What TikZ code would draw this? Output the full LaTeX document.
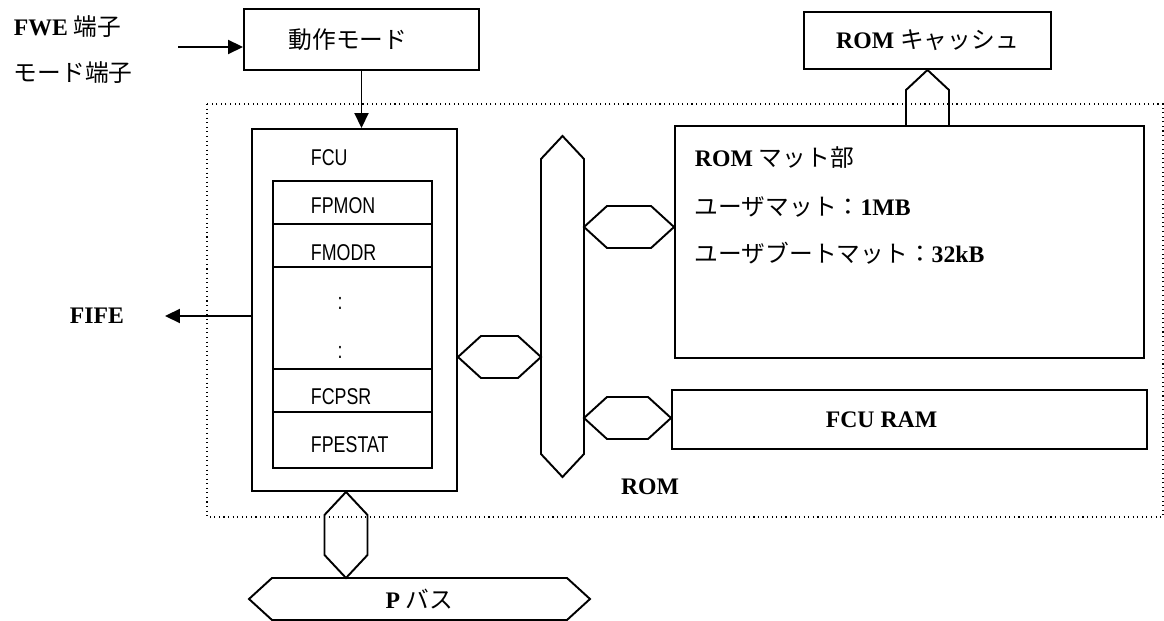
\documentclass[tikz,border=0pt]{standalone}
\usepackage{fontspec}
\setmainfont{Liberation Serif}
\newfontfamily\jpfont{Noto Sans CJK JP}
\newfontfamily\regfont[FakeStretch=0.78]{Liberation Sans}
\usetikzlibrary{arrows.meta, positioning, calc}

\newcommand{\jtext}[1]{{\jpfont\mdseries #1}}
% flat hexagon bus between two points (left -> right / top -> bottom)
\newcommand{\hexlink}[2]{%
  \draw (#1) -- ($(#1)+(0.46,0.42)$) -- ($(#2)+(-0.46,0.42)$) -- (#2)
    -- ($(#2)+(-0.46,-0.42)$) -- ($(#1)+(0.46,-0.42)$) -- cycle;}
\newcommand{\vhexlink}[2]{%
  \draw (#1) -- ($(#1)+(0.43,-0.46)$) -- ($(#2)+(0.43,0.46)$) -- (#2)
    -- ($(#2)+(-0.43,0.46)$) -- ($(#1)+(-0.43,-0.46)$) -- cycle;}

\begin{document}
\begin{tikzpicture}[
    line width=1.1pt,
    font=\fontsize{13.5pt}{16pt}\selectfont\bfseries,
    block/.style={rectangle, draw, inner sep=0pt},
    txt/.style={inner sep=0pt, anchor=west},
    reg/.style={txt, font=\regfont\fontsize{13pt}{15pt}\selectfont},
    arrow/.style={-{Triangle[length=3mm, width=2.8mm]}}
]
\useasboundingbox (0,0) rectangle (23.28,-12.42);

% pins and mode
\node[txt] (fwe) at (0.26,-0.54) {FWE \jtext{端子}};
\node[txt] (modepin) at (0.26,-1.46) {\jtext{モード端子}};
\node[block, minimum width=4.7cm, minimum height=1.22cm] (mode) at (7.23,-0.79) {};
\node (modelbl) at ($(mode)+(-0.27,0)$) {\jtext{動作モード}};
\node[block, minimum width=4.94cm, minimum height=1.14cm] (cache) at (18.55,-0.81) {ROM \jtext{キャッシュ}};

\coordinate (pinin) at (3.56,-0.94);
\draw[arrow] (pinin) -- (mode.west |- pinin);

% ROM area
\draw[dotted, line width=0.6pt] (4.14,-2.08) rectangle (23.26,-10.34);

\node[block, minimum width=4.1cm, minimum height=7.24cm] (fcu) at (7.09,-6.2) {};
\node[reg] (fcuname) at (6.2,-3.16) {FCU};
\node[block, minimum width=3.18cm, minimum height=5.74cm] (regs) at (7.05,-6.49) {};
\foreach \y in {-4.48,-5.34,-7.38,-8.24}
  \draw (regs.west |- 0,\y) -- (regs.east |- 0,\y);
\foreach \name/\y in {FPMON/-4.12, FMODR/-5.06, FCPSR/-7.94, FPESTAT/-8.9}
  \node[reg] (\name) at (6.2,\y) {\name};
\node[reg, anchor=center] (dotsA) at (6.8,-6.06) {:};
\node[reg, anchor=center] (dotsB) at (6.8,-7.04) {:};

\draw[arrow] (mode.south) -- (mode.south |- fcu.north);

\node[txt] (fife) at (1.38,-6.32) {FIFE};
\draw[arrow] (fcu.west |- fife) -- ([xshift=0.8cm]fife.east);

\node[block, minimum width=9.38cm, minimum height=4.64cm] (rommat) at (18.19,-4.84) {};
\node[txt] (matA) at (13.88,-3.16) {ROM \jtext{マット部}};
\node[txt] (matB) at (13.88,-4.14) {\jtext{ユーザマット：}1MB};
\node[txt] (matC) at (13.88,-5.06) {\jtext{ユーザブートマット：}32kB};

\node[block, minimum width=9.5cm, minimum height=1.18cm] (fcuram) at (18.19,-8.39) {};
\node (ramlbl) at ($(fcuram)+(-0.56,0)$) {FCU RAM};
\node (romlbl) at (13.0,-9.74) {ROM};

% internal bus
\node[inner sep=0pt, outer sep=0pt, minimum width=0.86cm, minimum height=6.82cm] (ibus) at (11.25,-6.13) {};
\vhexlink{ibus.north}{ibus.south}

\coordinate (l1) at (fcu.east |- 0,-7.14);
\coordinate (r1) at (ibus.west |- l1);
\hexlink{l1}{r1}
\coordinate (l2) at (ibus.east |- 0,-4.54);
\coordinate (r2) at (rommat.west |- l2);
\hexlink{l2}{r2}
\coordinate (l3) at (ibus.east |- 0,-8.36);
\coordinate (r3) at (fcuram.west |- l3);
\hexlink{l3}{r3}

% to ROM cache
\coordinate (up) at (rommat.north -| cache.south);
\draw ($(up)+(-0.43,0)$) -- ++(0,0.7) -- (cache.south) -- ($(up)+(0.43,0.7)$) -- ++(0,-0.7);

% P bus
\node[inner sep=0pt, outer sep=0pt, minimum width=6.82cm, minimum height=0.84cm] (pbus) at (8.39,-11.98) {P \jtext{バス}};
\hexlink{pbus.west}{pbus.east}
\coordinate (t4) at (fcu.south -| 6.92,0);
\coordinate (b4) at (pbus.north -| t4);
\vhexlink{t4}{b4}

\end{tikzpicture}
\end{document}
